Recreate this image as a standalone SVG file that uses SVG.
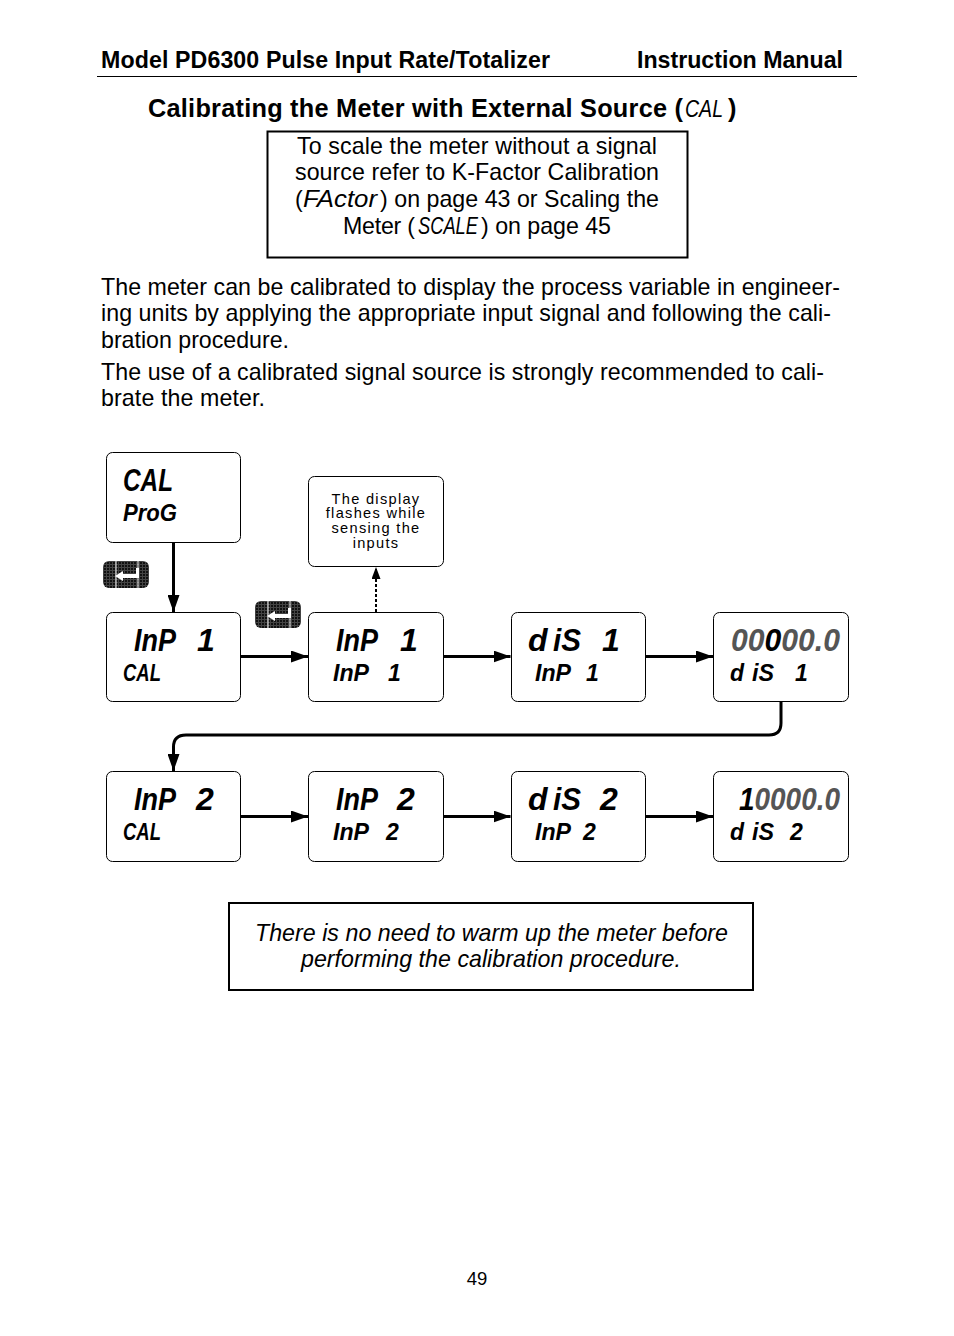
<svg xmlns="http://www.w3.org/2000/svg" width="954" height="1336" viewBox="0 0 954 1336">
<style>
text{font-family:"Liberation Sans",Arial,sans-serif;fill:#000}
.body{font-size:23.2px}
.hd{font-size:23.2px;font-weight:bold}
.h1{font-size:25.3px;font-weight:bold}
.lcd{font-weight:bold;font-style:italic}
.l{font-size:32px}
.s{font-size:23px}
.i{font-size:23px;font-style:italic}
.box{fill:#fff;stroke:#000;stroke-width:1}
.c{fill:none;stroke:#000;stroke-width:3}
.note{font-size:14.6px;letter-spacing:1.3px;text-anchor:middle}
.dim{fill:#555}
</style>
<defs>
<marker id="a" markerUnits="userSpaceOnUse" markerWidth="18" markerHeight="12" refX="17" refY="6" orient="auto"><path d="M0 0L17 6L0 12Z" fill="#000"/></marker>
<marker id="b" markerUnits="userSpaceOnUse" markerWidth="12" markerHeight="9" refX="12" refY="4.5" orient="auto"><path d="M0 0L12 4.500L0 9Z" fill="#000"/></marker>
<pattern id="dots" width="3" height="3" patternUnits="userSpaceOnUse"><rect width="3" height="3" fill="#111"/><path d="M0 .5H3M.5 0V3" stroke="#444" stroke-width="1"/></pattern>
<g id="key"><rect width="46" height="27" rx="6" fill="url(#dots)"/><path d="M13 0V27M35 0V27" stroke="#fff" stroke-width="1"/><path d="M12 15L20 10V13H33V7H36V17H20V20Z" fill="#fff"/></g>
</defs>
<rect width="954" height="1336" fill="#fff"/>
<g id="header">
<text x="101" y="68" class="hd" textLength="449">Model PD6300 Pulse Input Rate/Totalizer</text>
<text x="637" y="68" class="hd" textLength="206">Instruction Manual</text>
<path d="M97 76.500H857" stroke="#000" stroke-width="1"/>
<text x="148" y="117" class="h1" textLength="535">Calibrating the Meter with External Source (</text>
<text x="685" y="117" class="i" textLength="38" lengthAdjust="spacingAndGlyphs">CAL</text>
<text x="728" y="117" class="h1">)</text>
</g>
<g id="note-top">
<rect x="267.500" y="131.500" width="420" height="126" fill="#fff" stroke="#000" stroke-width="2"/>
<text x="297" y="154" class="body" textLength="360">To scale the meter without a signal</text>
<text x="295" y="180" class="body" textLength="364">source refer to K-Factor Calibration</text>
<text x="295" y="207" class="body">(</text><text x="303" y="207" class="i" textLength="74" lengthAdjust="spacingAndGlyphs">FActor</text><text x="380" y="207" class="body" textLength="279">) on page 43 or Scaling the</text>
<text x="343" y="234" class="body" textLength="72">Meter (</text><text x="418" y="234" class="i" textLength="60" lengthAdjust="spacingAndGlyphs">SCALE</text><text x="481" y="234" class="body" textLength="130">) on page 45</text>
</g>
<g id="para">
<text x="101" y="295" class="body" textLength="739">The meter can be calibrated to display the process variable in engineer-</text>
<text x="101" y="321" class="body" textLength="730">ing units by applying the appropriate input signal and following the cali-</text>
<text x="101" y="348" class="body" textLength="188">bration procedure.</text>
<text x="101" y="380" class="body" textLength="723">The use of a calibrated signal source is strongly recommended to cali-</text>
<text x="101" y="406" class="body" textLength="164">brate the meter.</text>
</g>
<g id="connectors">
<path class="c" d="M173.500 542V612" marker-end="url(#a)"/>
<path class="c" d="M241 656.500H308" marker-end="url(#a)"/>
<path class="c" d="M443 656.500H510.500" marker-end="url(#a)"/>
<path class="c" d="M646 656.500H713" marker-end="url(#a)"/>
<path class="c" d="M781 702V723Q781 735 769 735H186Q173.500 735 173.500 747V771" marker-end="url(#a)"/>
<path class="c" d="M241 816.500H308" marker-end="url(#a)"/>
<path class="c" d="M443 816.500H510.500" marker-end="url(#a)"/>
<path class="c" d="M646 816.500H713" marker-end="url(#a)"/>
<path d="M376 612V567" fill="none" stroke="#000" stroke-width="2" stroke-dasharray="3 2" marker-end="url(#b)"/>
</g>
<g id="key1"><use href="#key" x="103" y="561"/></g>
<g id="key2"><use href="#key" x="255" y="601"/></g>
<g id="n1"><rect class="box" x="106.500" y="452.500" width="134" height="90" rx="6"/><text class="lcd l" x="123" y="491" textLength="50" lengthAdjust="spacingAndGlyphs">CAL</text><text class="lcd s" x="123" y="521" textLength="54" lengthAdjust="spacingAndGlyphs">ProG</text></g>
<g id="n2"><rect class="box" x="308.500" y="476.500" width="135" height="90" rx="6"/><text class="note" x="376" y="504">The display</text><text class="note" x="376" y="518">flashes while</text><text class="note" x="376" y="533">sensing the</text><text class="note" x="376" y="548">inputs</text></g>
<g id="n3"><rect class="box" x="106.500" y="612.500" width="134" height="89" rx="6"/><text class="lcd l" x="134" y="651" textLength="42" lengthAdjust="spacingAndGlyphs">InP</text><text class="lcd l" x="197" y="651">1</text><text class="lcd s" x="123" y="681" textLength="38" lengthAdjust="spacingAndGlyphs">CAL</text></g>
<g id="n4"><rect class="box" x="308.500" y="612.500" width="135" height="89" rx="6"/><text class="lcd l" x="336" y="651" textLength="42" lengthAdjust="spacingAndGlyphs">InP</text><text class="lcd l" x="400" y="651">1</text><text class="lcd s" x="333" y="681" textLength="36" lengthAdjust="spacingAndGlyphs">InP</text><text class="lcd s" x="388" y="681">1</text></g>
<g id="n5"><rect class="box" x="511.500" y="612.500" width="134" height="89" rx="6"/><text class="lcd l" x="528" y="651">d</text><text class="lcd l" x="553" y="651" textLength="28" lengthAdjust="spacingAndGlyphs">iS</text><text class="lcd l" x="602" y="651">1</text><text class="lcd s" x="535" y="681" textLength="36" lengthAdjust="spacingAndGlyphs">InP</text><text class="lcd s" x="586" y="681">1</text></g>
<g id="n6"><rect class="box" x="713.500" y="612.500" width="135" height="89" rx="6"/><text class="lcd l dim" x="731" y="651" textLength="109" lengthAdjust="spacingAndGlyphs">00<tspan fill="#000">0</tspan>00.0</text><text class="lcd s" x="730" y="681">d</text><text class="lcd s" x="752" y="681" textLength="22" lengthAdjust="spacingAndGlyphs">iS</text><text class="lcd s" x="795" y="681">1</text></g>
<g id="n7"><rect class="box" x="106.500" y="771.500" width="134" height="90" rx="6"/><text class="lcd l" x="134" y="810" textLength="42" lengthAdjust="spacingAndGlyphs">InP</text><text class="lcd l" x="196" y="810">2</text><text class="lcd s" x="123" y="840" textLength="38" lengthAdjust="spacingAndGlyphs">CAL</text></g>
<g id="n8"><rect class="box" x="308.500" y="771.500" width="135" height="90" rx="6"/><text class="lcd l" x="336" y="810" textLength="42" lengthAdjust="spacingAndGlyphs">InP</text><text class="lcd l" x="397" y="810">2</text><text class="lcd s" x="333" y="840" textLength="36" lengthAdjust="spacingAndGlyphs">InP</text><text class="lcd s" x="386" y="840">2</text></g>
<g id="n9"><rect class="box" x="511.500" y="771.500" width="134" height="90" rx="6"/><text class="lcd l" x="528" y="810">d</text><text class="lcd l" x="553" y="810" textLength="28" lengthAdjust="spacingAndGlyphs">iS</text><text class="lcd l" x="600" y="810">2</text><text class="lcd s" x="535" y="840" textLength="36" lengthAdjust="spacingAndGlyphs">InP</text><text class="lcd s" x="583" y="840">2</text></g>
<g id="n10"><rect class="box" x="713.500" y="771.500" width="135" height="90" rx="6"/><text class="lcd l dim" x="739" y="810" textLength="101" lengthAdjust="spacingAndGlyphs"><tspan fill="#000">1</tspan>0000.0</text><text class="lcd s" x="730" y="840">d</text><text class="lcd s" x="752" y="840" textLength="22" lengthAdjust="spacingAndGlyphs">iS</text><text class="lcd s" x="790" y="840">2</text></g>
<g id="note-bottom">
<rect x="229" y="903" width="524" height="87" fill="#fff" stroke="#000" stroke-width="2"/>
<text x="255" y="941" class="body" font-style="italic" textLength="473">There is no need to warm up the meter before</text>
<text x="301" y="967" class="body" font-style="italic" textLength="380">performing the calibration procedure.</text>
</g>
<text id="page" x="477" y="1285" text-anchor="middle" style="font-size:18.5px">49</text>
</svg>
